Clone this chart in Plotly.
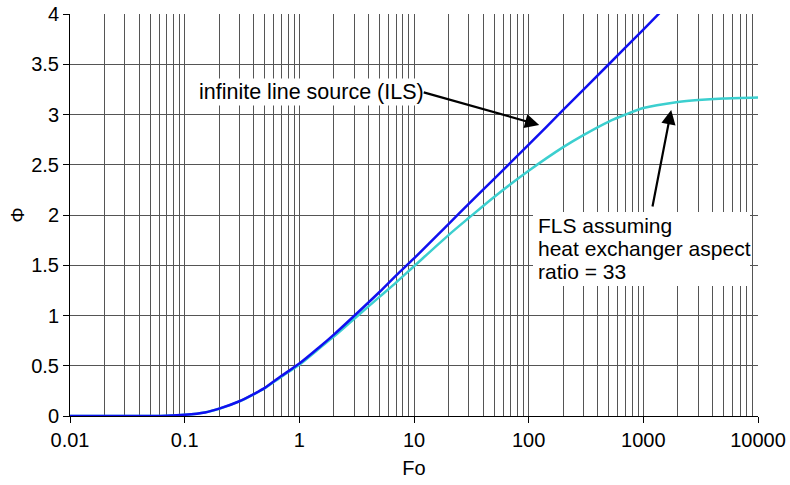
import plotly.graph_objects as go

# Fourier number values (x) and dimensionless temperature response Phi (y)
fo_ils = [0.01, 0.03, 0.05, 0.07, 0.1, 0.15, 0.2, 0.3, 0.4, 0.5, 0.7, 1, 1.5, 2, 3, 5, 7, 10,
          20, 30, 50, 100, 200, 500, 1000, 1400]
phi_ils = [0.0, 0.0, 0.0006, 0.003, 0.012, 0.035, 0.073, 0.147, 0.218, 0.28, 0.40, 0.522,
           0.687, 0.81, 0.995, 1.234, 1.40, 1.568, 1.91, 2.11, 2.36, 2.70, 3.045, 3.50,
           3.845, 4.015]

fo_fls = [0.01, 0.03, 0.05, 0.07, 0.1, 0.15, 0.2, 0.3, 0.4, 0.5, 0.7, 1, 1.5, 2, 3, 5, 7, 10,
          20, 30, 50, 100, 200, 300, 500, 700, 1000, 2000, 3000, 5000, 10000]
phi_fls = [0.0, 0.0, 0.0006, 0.003, 0.012, 0.035, 0.072, 0.145, 0.215, 0.276, 0.392, 0.51,
           0.675, 0.79, 0.965, 1.185, 1.33, 1.49, 1.80, 1.97, 2.18, 2.44, 2.675, 2.795,
           2.93, 3.00, 3.065, 3.125, 3.145, 3.16, 3.17]

x_tickvals = [0.01, 0.1, 1, 10, 100, 1000, 10000]
x_ticktext = ["0.01", "0.1", "1", "10", "100", "1000", "10000"]
y_tickvals = [0, 0.5, 1, 1.5, 2, 2.5, 3, 3.5, 4]
y_ticktext = ["0", "0.5", "1", "1.5", "2", "2.5", "3", "3.5", "4"]

FONT = "Liberation Sans, Arial, sans-serif"
GRID = "#555555"

W, H = 790, 485
PL, PT, PW, PH = 70, 14, 688, 402

fig = go.Figure()
fig.add_trace(go.Scatter(x=fo_fls, y=phi_fls, mode="lines",
                         line=dict(color="#3CCFCF", width=2.5, shape="spline", smoothing=0.8),
                         showlegend=False))
fig.add_trace(go.Scatter(x=fo_ils, y=phi_ils, mode="lines",
                         line=dict(color="#1010F0", width=2.5, shape="spline", smoothing=0.8),
                         showlegend=False))

fig.update_layout(
    width=W, height=H,
    margin=dict(l=PL, r=W - PL - PW, t=PT, b=H - PT - PH),
    paper_bgcolor="white", plot_bgcolor="white",
    font=dict(family=FONT, size=20, color="black"),
    xaxis=dict(
        type="log", range=[-2, 4], automargin=False,
        tickvals=x_tickvals, ticktext=x_ticktext,
        ticks="outside", ticklen=6, tickcolor="black",
        showgrid=True, gridcolor=GRID, gridwidth=1,
        minor=dict(dtick="D1", showgrid=True, gridcolor=GRID, gridwidth=1, ticks=""),
        showline=True, linecolor="black", linewidth=1,
        zeroline=False,
        title=dict(text="Fo", font=dict(size=20), standoff=10),
        tickfont=dict(size=20),
    ),
    yaxis=dict(
        range=[0, 4], automargin=False,
        tickvals=y_tickvals, ticktext=y_ticktext,
        ticks="outside", ticklen=6, tickcolor="black",
        showgrid=True, gridcolor=GRID, gridwidth=1,
        showline=True, linecolor="black", linewidth=1,
        zeroline=False,
        title=dict(text="Φ", font=dict(size=19), standoff=1),
        tickfont=dict(size=20),
    ),
)

def px(xp):
    return (xp - PL) / PW

def py(yp):
    return (PT + PH - yp) / PH

# ILS label + arrow
fig.add_annotation(xref="paper", yref="paper", x=px(197), y=py(92),
                   xanchor="left", yanchor="middle",
                   text="infinite line source (ILS)", showarrow=False,
                   font=dict(size=21.5, family=FONT), bgcolor="white", borderpad=1)
fig.add_annotation(x=2.092, y=2.896, xref="x", yref="y",
                   text="", showarrow=True, arrowhead=2, arrowsize=1.3,
                   arrowwidth=2.2, arrowcolor="black",
                   ax=-117, ay=-33)

# FLS label box + arrow
fig.add_shape(type="rect", xref="paper", yref="paper",
              x0=px(533), x1=px(750), y0=py(286), y1=py(212),
              fillcolor="white", line=dict(width=0), layer="above")
fls_lines = ["FLS assuming", "heat exchanger aspect", "ratio = 33"]
for i, t in enumerate(fls_lines):
    fig.add_annotation(xref="paper", yref="paper", x=px(536), y=py(225 + 23 * i),
                       xanchor="left", yanchor="middle", align="left",
                       text=t, showarrow=False, font=dict(size=21, family=FONT))
fig.add_annotation(x=3.243, y=3.045, xref="x", yref="y",
                   text="", showarrow=True, arrowhead=2, arrowsize=1.3,
                   arrowwidth=2.2, arrowcolor="black",
                   ax=-19, ay=98)

fig.write_html("out.html", config={"displayModeBar": False},
               post_script="document.body.style.margin='0';document.body.style.padding='0';")
